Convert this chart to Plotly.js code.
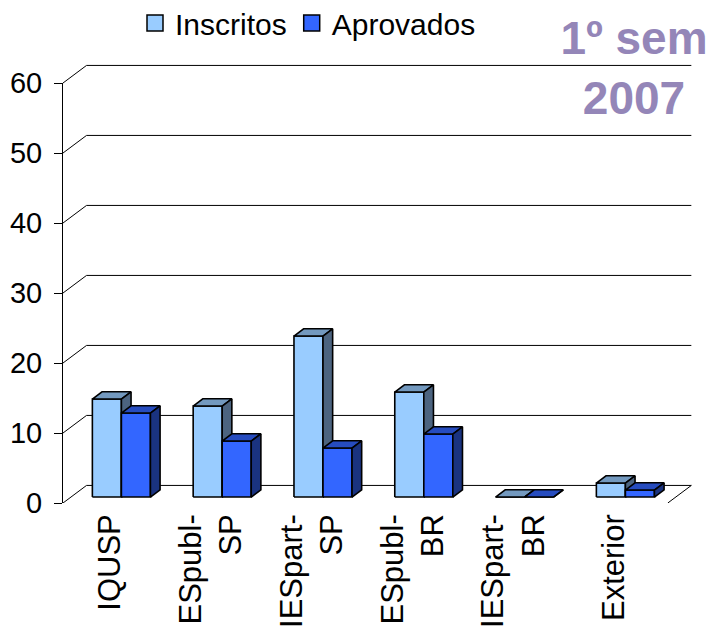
<!DOCTYPE html>
<html>
<head>
<meta charset="utf-8">
<script src="https://cdn.plot.ly/plotly-3.0.1.min.js"></script>
<style>html,body{margin:0;padding:0;background:#fff;}#chart{width:713px;height:629px;}</style>
</head>
<body>
<div id="chart"></div>
<script>
// ---- data ----
var categories = ['IQUSP', 'ESpubl-SP', 'IESpart-SP', 'ESpubl-BR', 'IESpart-BR', 'Exterior'];
var tickLabels = ['IQUSP', 'ESpubl-<br>SP', 'IESpart-<br>SP', 'ESpubl-<br>BR', 'IESpart-<br>BR', 'Exterior'];
var inscritos = [14, 13, 23, 15, 0, 2];
var aprovados = [12, 8, 7, 9, 0, 1];
var yTickValues = [0, 10, 20, 30, 40, 50, 60];
var seriesNames = ['Inscritos', 'Aprovados'];

// ---- style / geometry ----
var FONT = 'Liberation Sans, Arial, sans-serif';
var DX = 0.2334, DY = 2.51;       // depth of the 3D box, in axis units
var FA = 0.34, FB = 0.75;         // bar front / back depth fractions
var BW = 0.288;                   // bar width
var LABEL_SHIFT = -0.03;          // small horizontal nudge of category labels
var colors = {
  Inscritos: {front: '#99ccff', top: '#7399bf', side: '#4c6480'},
  Aprovados: {front: '#3366ff', top: '#264cbf', side: '#1a3380'}
};
var n = categories.length;
var xMin = -0.5, xMax = n - 0.5, xRangeMax = xMax + 0.25;
var yMaxTick = yTickValues[yTickValues.length - 1];
var yRangeMax = 63;

function faces(values, side) {
  var f = {front: {x: [], y: []}, top: {x: [], y: []}, side: {x: [], y: []}};
  var ddx = (FB - FA) * DX, ddy = (FB - FA) * DY;
  values.forEach(function (v, i) {
    var xl = i + (side === 0 ? -BW : 0) + FA * DX;
    var xr = xl + BW;
    var b = FA * DY, t = b + v;
    function push(o, xs, ys) { o.x.push.apply(o.x, xs.concat([null])); o.y.push.apply(o.y, ys.concat([null])); }
    push(f.front, [xl, xl, xr, xr, xl], [b, t, t, b, b]);
    push(f.top, [xl, xl + ddx, xr + ddx, xr, xl], [t, t + ddy, t + ddy, t, t]);
    push(f.side, [xr, xr + ddx, xr + ddx, xr, xr], [b, b + ddy, t + ddy, t, b]);
  });
  return f;
}

var traces = [];
// back wall gridlines with their diagonals
var gx = [], gy = [];
yTickValues.forEach(function (v) {
  gx.push(xMin, xMin + DX, xMax + DX, null);
  gy.push(v, v + DY, v + DY, null);
});
// floor right edge
gx.push(xMax, xMax + DX, null); gy.push(0, DY, null);
traces.push({type: 'scatter', mode: 'lines', x: gx, y: gy, line: {color: '#000', width: 1},
  hoverinfo: 'skip', showlegend: false});

[inscritos, aprovados].forEach(function (vals, s) {
  var name = seriesNames[s];
  var f = faces(vals, s);
  ['front', 'top', 'side'].forEach(function (k) {
    traces.push({type: 'scatter', mode: 'lines', x: f[k].x, y: f[k].y, fill: 'toself',
      fillcolor: colors[name][k], line: {color: '#000', width: 1.6}, connectgaps: false,
      hoverinfo: 'skip', showlegend: false, legendgroup: name});
  });
});
// front value axis (ties the y2 tick axis to a subplot)
traces.push({type: 'scatter', mode: 'markers', x: yTickValues.map(function () { return xMin; }), y: yTickValues,
  yaxis: 'y2', marker: {opacity: 0, size: 1}, hoverinfo: 'skip', showlegend: false});
// legend entries
seriesNames.forEach(function (name) {
  traces.push({type: 'scatter', mode: 'markers', x: [null], y: [null], name: name, legendgroup: name,
    marker: {symbol: 'square', size: 16, color: colors[name].front, line: {color: '#000', width: 1.5}},
    hoverinfo: 'skip'});
});

var layout = {
  width: 713, height: 629,
  margin: {l: 63, r: 20, t: 62, b: 126, pad: 0},
  paper_bgcolor: '#fff', plot_bgcolor: 'rgba(0,0,0,0)',
  font: {family: FONT, color: '#000'},
  title: {text: '<b>1º sem<br>2007</b>', font: {family: FONT, size: 46, color: '#9486b8'},
    xref: 'container', x: 634 / 713, xanchor: 'center', yref: 'container', y: 1 - 54 / 629, yanchor: 'top'},
  showlegend: true,
  legend: {orientation: 'h', xref: 'container', x: 135 / 713, xanchor: 'left', yref: 'container', y: 1 - 23 / 629,
    yanchor: 'middle', font: {family: FONT, size: 30, color: '#000'}, bgcolor: 'rgba(0,0,0,0)', itemclick: false},
  xaxis: {range: [xMin, xRangeMax], domain: [0, 1], tickmode: 'array',
    tickvals: categories.map(function (c, i) { return i + LABEL_SHIFT; }),
    ticktext: tickLabels, tickangle: -90, ticks: '', showline: false, showgrid: false, zeroline: false,
    tickfont: {family: FONT, size: 31, color: '#000'}, ticklabelstandoff: 4, fixedrange: true},
  yaxis: {range: [0, yRangeMax], domain: [0, 1], visible: false, fixedrange: true},
  xaxis2: {range: [xMin, xMax], domain: [0, (xMax - xMin) / (xRangeMax - xMin)], anchor: 'y',
    tickmode: 'array', tickvals: categories.map(function (c, i) { return i - 0.5; }).concat([xMax]),
    ticks: 'outside', ticklen: 8, tickcolor: '#000', tickwidth: 1, showticklabels: false,
    showline: true, linecolor: '#000', linewidth: 1, showgrid: false, zeroline: false, fixedrange: true},
  yaxis2: {range: [0, yMaxTick], domain: [0, yMaxTick / yRangeMax], anchor: 'x',
    tickmode: 'array', tickvals: yTickValues, ticks: 'outside', ticklen: 8, tickcolor: '#000', tickwidth: 1,
    showline: true, linecolor: '#000', linewidth: 1, showgrid: false, zeroline: false,
    tickfont: {family: FONT, size: 29, color: '#000'}, ticklabelstandoff: 6, fixedrange: true}
};

Plotly.newPlot('chart', traces, layout, {displayModeBar: false, staticPlot: true});
</script>
</body>
</html>
